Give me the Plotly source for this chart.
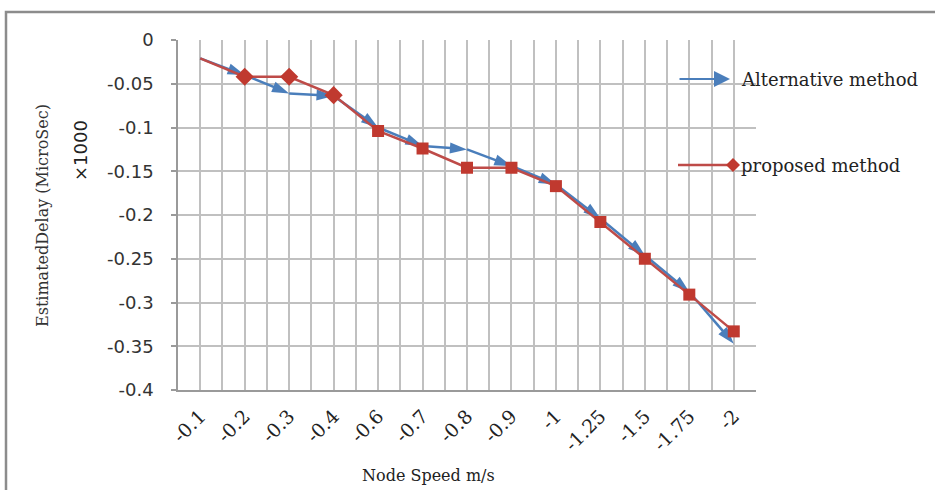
import plotly.graph_objects as go

speeds = ["-0.1", "-0.2", "-0.3", "-0.4", "-0.6", "-0.7", "-0.8", "-0.9", "-1", "-1.25", "-1.5", "-1.75", "-2"]
alternative = [-0.021, -0.040, -0.061, -0.064, -0.100, -0.121, -0.125, -0.144, -0.165, -0.204, -0.246, -0.288, -0.347]
proposed = [-0.021, -0.042, -0.042, -0.063, -0.104, -0.124, -0.146, -0.146, -0.167, -0.208, -0.250, -0.291, -0.333]
y_ticks = [0, -0.05, -0.1, -0.15, -0.2, -0.25, -0.3, -0.35, -0.4]
y_labels = ["0", "-0.05", "-0.1", "-0.15", "-0.2", "-0.25", "-0.3", "-0.35", "-0.4"]

BLUE = "#4a7ebb"
RED = "#c0392f"
RED_LINE = "#be4b48"
GRID = "#c0c0c0"

L, R, T, B = 178, 756, 40, 390
W, H = 935, 490


def px(x):
    return (x - L) / (R - L)


def py(y):
    return (B - y) / (B - T)


idx = list(range(len(speeds)))
n = len(speeds)

fig = go.Figure()
fig.add_trace(go.Scatter(
    x=idx, y=alternative, mode="lines+markers", name="Alternative method",
    line=dict(color=BLUE, width=2.5),
    marker=dict(symbol="arrow", angleref="previous", color=BLUE, opacity=1,
                size=[0] + [18] * (n - 1), line=dict(width=0)),
    showlegend=False,
))
fig.add_trace(go.Scatter(
    x=idx, y=proposed, mode="lines+markers", name="proposed method",
    line=dict(color=RED_LINE, width=2.5),
    marker=dict(symbol=["diamond"] * 4 + ["square"] * (n - 4), color=RED, opacity=1,
                size=[0] + [14] * 3 + [12] * (n - 4), line=dict(width=0)),
    showlegend=False,
))

serif = "DejaVu Serif"
sans = "DejaVu Sans"

fig.update_xaxes(
    range=[-0.5, n - 0.5], tickmode="array", tickvals=idx, ticktext=speeds,
    tickangle=-45, tickfont=dict(family=serif, size=19, color="#222"),
    showgrid=True, gridcolor=GRID, gridwidth=1.5,
    minor=dict(tick0=-0.5, dtick=1, showgrid=True, gridcolor=GRID, gridwidth=1.5),
    showline=True, linecolor="#9a9a9a", linewidth=1.5, zeroline=False,
    ticks="", ticklabelstandoff=6,
)
fig.update_yaxes(
    range=[-0.4, 0], tickmode="array", tickvals=y_ticks, ticktext=y_labels,
    tickfont=dict(family=sans, size=18, color="#333"),
    showgrid=True, gridcolor=GRID, gridwidth=1.5,
    showline=True, linecolor="#9a9a9a", linewidth=1.5, zeroline=False,
    ticks="outside", ticklen=5, tickcolor="#9a9a9a", tickwidth=1.5,
    ticklabelstandoff=14,
)

common = dict(xref="paper", yref="paper", showarrow=False, xanchor="center", yanchor="middle")
annotations = [
    dict(x=px(42), y=py(216), text="EstimatedDelay (MicroSec)", textangle=-90,
         font=dict(family=serif, size=16, color="#333"), **common),
    dict(x=px(80), y=py(151), text="×1000", textangle=-90,
         font=dict(family=sans, size=18, color="#222"), **common),
    dict(x=px(428), y=py(475), text="Node Speed m/s",
         font=dict(family=serif, size=16, color="#222"), **common),
    dict(x=px(739), y=py(79), text="Alternative method", xref="paper", yref="paper",
         showarrow=False, xanchor="left", yanchor="middle",
         font=dict(family=serif, size=18, color="#222")),
    dict(x=px(739), y=py(165), text="proposed method", xref="paper", yref="paper",
         showarrow=False, xanchor="left", yanchor="middle",
         font=dict(family=serif, size=18, color="#222")),
    dict(x=px(730), y=py(79), xref="paper", yref="paper", text="", showarrow=True,
         ax=-52, ay=0, arrowhead=2, arrowsize=1.6, arrowwidth=2, arrowcolor=BLUE),
]

shapes = [
    dict(type="line", xref="paper", yref="paper", x0=px(678), x1=px(733), y0=py(165), y1=py(165),
         line=dict(color=RED_LINE, width=2.5)),
    dict(type="path", xref="paper", yref="paper", xsizemode="pixel", ysizemode="pixel",
         xanchor=px(733), yanchor=py(165), path="M0,-7L7,0L0,7L-7,0Z",
         fillcolor=RED, line=dict(width=0)),
    dict(type="rect", xref="paper", yref="paper", x0=px(6), x1=px(960), y0=py(520), y1=py(12),
         line=dict(color="#8c8c8c", width=2.5), fillcolor="rgba(0,0,0,0)", layer="below"),
]

fig.update_layout(
    width=W, height=H,
    margin=dict(l=L, r=W - R, t=T, b=H - B),
    paper_bgcolor="white", plot_bgcolor="white",
    annotations=annotations, shapes=shapes,
    showlegend=False,
)

fig.write_html("out.html")
